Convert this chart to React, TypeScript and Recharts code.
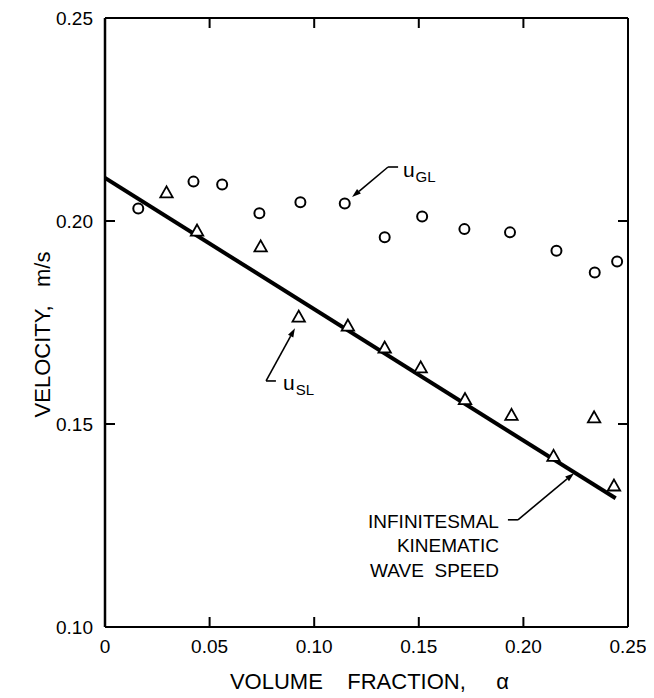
import React from 'react';
import { ScatterChart, Scatter, XAxis, YAxis, ReferenceLine, ReferenceDot } from 'recharts';

// u_GL (circles)
const gasX = [0.0159, 0.0423, 0.056, 0.0738, 0.0934, 0.1146, 0.1337, 0.1516, 0.1718, 0.1936, 0.2158, 0.2341, 0.2448];
const gasY = [0.2031, 0.2097, 0.209, 0.2019, 0.2046, 0.2043, 0.196, 0.2011, 0.198, 0.1972, 0.1927, 0.1873, 0.19];
// u_SL (triangles)
const solidX = [0.0294, 0.044, 0.0744, 0.0926, 0.1161, 0.1337, 0.1509, 0.1721, 0.1943, 0.2144, 0.2338, 0.2433];
const solidY = [0.2068, 0.1974, 0.1935, 0.1762, 0.174, 0.1686, 0.1637, 0.1559, 0.152, 0.1419, 0.1514, 0.1346];
// infinitesimal kinematic wave speed line
const waveX = [0, 0.2441];
const waveY = [0.2106, 0.1317];

const xTicks = [0, 0.05, 0.1, 0.15, 0.2, 0.25];
const yTicks = [0.1, 0.15, 0.2, 0.25];
const xTopTicks = [0.05, 0.1, 0.15, 0.2];
const yRightTicks = [0.15, 0.2];

const xTitle = 'VOLUME\u00A0\u00A0\u00A0\u00A0FRACTION,\u00A0\u00A0\u00A0\u00A0\u00A0α';
const yTitle = 'VELOCITY,\u00A0\u00A0\u00A0m/s';
const waveLabel = ['INFINITESMAL', 'KINEMATIC', 'WAVE  SPEED'];

const FONT = '"Liberation Sans", Arial, Helvetica, sans-serif';

const gasData = gasX.map((x, i) => ({ x, y: gasY[i] }));
const solidData = solidX.map((x, i) => ({ x, y: solidY[i] }));
const waveData = waveX.map((x, i) => ({ x, y: waveY[i] }));

const fmt = (v: number) => (v === 0 ? '0' : v.toFixed(2));

const TICK_LEN = 10;
const MARGIN = 12;
const TICK_W = 2;

const BottomTick = (p: any) => {
  const base = p.y - MARGIN;
  const v = p.payload.value;
  const skipLine = v === 0 || v === 0.25;
  return (
    <g>
      {!skipLine && <line x1={p.x} x2={p.x} y1={base} y2={base - TICK_LEN} stroke="#000" strokeWidth={TICK_W} />}
      <text x={p.x} y={p.y + 13.5} textAnchor="middle" fontFamily={FONT} fontSize={19} fill="#000">
        {fmt(v)}
      </text>
    </g>
  );
};
const LeftTick = (p: any) => {
  const base = p.x + MARGIN;
  const v = p.payload.value;
  const skipLine = v === 0.1 || v === 0.25;
  return (
    <g>
      {!skipLine && <line x1={base} x2={base + TICK_LEN} y1={p.y} y2={p.y} stroke="#000" strokeWidth={TICK_W} />}
      <text x={p.x} y={p.y + 6.5} textAnchor="end" fontFamily={FONT} fontSize={19} fill="#000">
        {fmt(v)}
      </text>
    </g>
  );
};
const RightTick = (p: any) => (
  <line x1={p.x} x2={p.x - TICK_LEN} y1={p.y} y2={p.y} stroke="#000" strokeWidth={TICK_W} />
);
// top frame tick: only the upper TICK_LEN px of a vertical reference line
const TopTickShape = (p: any) => {
  const top = Math.min(p.y1, p.y2);
  return <line x1={p.x1} x2={p.x1} y1={top} y2={top + TICK_LEN} stroke="#000" strokeWidth={TICK_W} />;
};

const Circle = (p: any) => (
  <circle cx={p.cx} cy={p.cy} r={5} fill="#fff" stroke="#000" strokeWidth={2} />
);
const Triangle = (p: any) => {
  const { cx, cy } = p;
  const pts = `${cx},${cy - 7} ${cx - 6.2},${cy + 4} ${cx + 6.2},${cy + 4}`;
  return <polygon points={pts} fill="#fff" stroke="#000" strokeWidth={1.8} strokeLinejoin="miter" />;
};
const NoDot = () => <g />;

const Arrow = (p: any) => {
  const { x1, y1, x2, y2 } = p;
  const dx = x2 - x1;
  const dy = y2 - y1;
  const len = Math.sqrt(dx * dx + dy * dy) || 1;
  const ux = dx / len;
  const uy = dy / len;
  const hl = 9;
  const hw = 3;
  const bx = x2 - ux * hl;
  const by = y2 - uy * hl;
  const pts = `${x2},${y2} ${bx - uy * hw},${by + ux * hw} ${bx + uy * hw},${by - ux * hw}`;
  return (
    <g>
      <line x1={x1} y1={y1} x2={bx} y2={by} stroke="#000" strokeWidth={1.6} />
      <polygon points={pts} fill="#000" />
    </g>
  );
};
const Seg = (p: any) => <line x1={p.x1} y1={p.y1} x2={p.x2} y2={p.y2} stroke="#000" strokeWidth={1.6} />;

const SubLabel = (main: string, sub: string) => (p: any) => (
  <text x={p.cx} y={p.cy} fontFamily={FONT} fill="#000">
    <tspan fontSize={21}>{main}</tspan>
    <tspan fontSize={15} dy={5} dx={1}>{sub}</tspan>
  </text>
);

const WaveText = (p: any) => (
  <text x={p.cx} y={p.cy} fontFamily={FONT} fontSize={19} fill="#000" textAnchor="end" style={{ whiteSpace: 'pre' }}>
    {waveLabel.map((t, i) => (
      <tspan key={i} x={p.cx} dy={i === 0 ? 0 : 24.5}>{t}</tspan>
    ))}
  </text>
);

const XTitle = (props: any) => {
  const vb = props.viewBox || { x: 97, y: 619, width: 523, height: 71 };
  return (
    <text x={vb.x + vb.width / 2 + 3} y={vb.y + 62} textAnchor="middle" fontFamily={FONT} fontSize={22} fill="#000">
      {xTitle}
    </text>
  );
};
const YTitle = (props: any) => {
  const vb = props.viewBox || { x: 0, y: 10, width: 97, height: 609 };
  const x = 42;
  const y = vb.y + vb.height / 2 + 12;
  return (
    <text x={x} y={y} transform={`rotate(-90, ${x}, ${y})`} textAnchor="middle" fontFamily={FONT} fontSize={22} fill="#000">
      {yTitle}
    </text>
  );
};

const axisLine = { stroke: '#000', strokeWidth: 2 };

export default function App() {
  return (
    <ScatterChart width={646} height={690} margin={{ top: 8, right: 24, bottom: 0, left: 0 }}>
      <XAxis
        xAxisId="b"
        dataKey="x"
        type="number"
        domain={[0, 0.25]}
        ticks={xTicks}
        interval={0}
        height={71}
        tickSize={0}
        tickMargin={MARGIN}
        tick={BottomTick}
        axisLine={axisLine}
        tickLine={false}
        allowDataOverflow
        label={{ content: XTitle }}
      />
      <XAxis
        xAxisId="t"
        orientation="top"
        type="number"
        domain={[0, 0.25]}
        ticks={xTopTicks}
        height={2}
        tick={false}
        axisLine={axisLine}
        tickLine={false}
        allowDataOverflow
      />
      <YAxis
        yAxisId="l"
        dataKey="y"
        type="number"
        domain={[0.1, 0.25]}
        ticks={yTicks}
        interval={0}
        width={97}
        tickSize={0}
        tickMargin={MARGIN}
        tick={LeftTick}
        axisLine={{ stroke: '#000', strokeWidth: 2.5 }}
        tickLine={false}
        allowDataOverflow
        label={{ content: YTitle }}
      />
      <YAxis
        yAxisId="r"
        orientation="right"
        type="number"
        domain={[0.1, 0.25]}
        ticks={yRightTicks}
        interval={0}
        width={2}
        tickSize={0}
        tickMargin={0}
        tick={RightTick}
        axisLine={axisLine}
        tickLine={false}
        allowDataOverflow
      />

      {xTopTicks.map((v) => (
        <ReferenceLine key={`tt${v}`} xAxisId="b" yAxisId="l" x={v} shape={TopTickShape} />
      ))}

      <Scatter
        xAxisId="b"
        yAxisId="l"
        data={waveData}
        line={{ stroke: '#000', strokeWidth: 4 }}
        lineType="joint"
        shape={NoDot}
        isAnimationActive={false}
      />
      <Scatter xAxisId="b" yAxisId="l" data={gasData} shape={Circle} isAnimationActive={false} />
      <Scatter xAxisId="b" yAxisId="l" data={solidData} shape={Triangle} isAnimationActive={false} />

      {/* u_GL leader */}
      <ReferenceLine xAxisId="b" yAxisId="l" segment={[{ x: 0.1353, y: 0.2133 }, { x: 0.1401, y: 0.2133 }]} shape={Seg} />
      <ReferenceLine xAxisId="b" yAxisId="l" segment={[{ x: 0.1353, y: 0.2133 }, { x: 0.1181, y: 0.2059 }]} shape={Arrow} />
      <ReferenceDot xAxisId="b" yAxisId="l" x={0.1424} y={0.2108} r={0} shape={SubLabel('u', 'GL')} />

      {/* u_SL leader */}
      <ReferenceLine xAxisId="b" yAxisId="l" segment={[{ x: 0.077, y: 0.1606 }, { x: 0.0817, y: 0.1606 }]} shape={Seg} />
      <ReferenceLine xAxisId="b" yAxisId="l" segment={[{ x: 0.077, y: 0.1606 }, { x: 0.0908, y: 0.1736 }]} shape={Arrow} />
      <ReferenceDot xAxisId="b" yAxisId="l" x={0.0851} y={0.1584} r={0} shape={SubLabel('u', 'SL')} />

      {/* wave speed leader */}
      <ReferenceLine xAxisId="b" yAxisId="l" segment={[{ x: 0.1926, y: 0.1264 }, { x: 0.1974, y: 0.1264 }]} shape={Seg} />
      <ReferenceLine xAxisId="b" yAxisId="l" segment={[{ x: 0.1974, y: 0.1264 }, { x: 0.2242, y: 0.1379 }]} shape={Arrow} />
      <ReferenceDot xAxisId="b" yAxisId="l" x={0.1883} y={0.1244} r={0} shape={WaveText} />
    </ScatterChart>
  );
}
